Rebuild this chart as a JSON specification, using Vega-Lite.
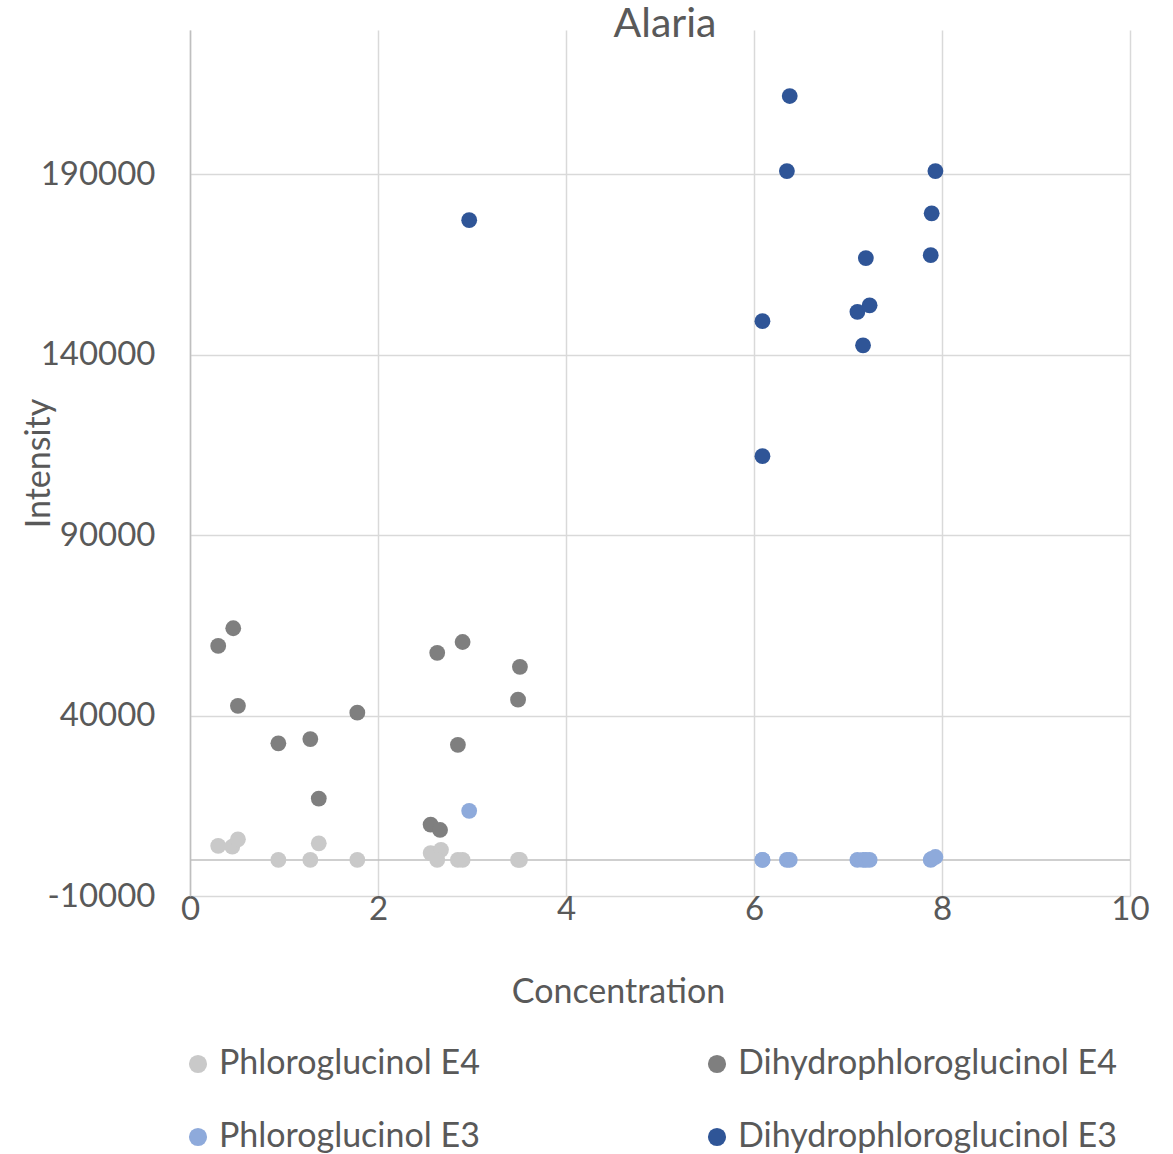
{
  "$schema": "https://vega.github.io/schema/vega-lite/v6.json",
  "width": 940,
  "height": 866,
  "autosize": {"type": "none"},
  "padding": {"left": 190, "top": 30, "right": 43, "bottom": 258},
  "background": "white",
  "title": {"text": "Alaria", "fontSize": 41, "font": "Lato", "color": "#595959", "fontWeight": "normal", "offset": 0, "baseline": "alphabetic", "dx": 5, "dy": 48, "anchor": "middle"},
  "config": {"view": {"stroke": null}, "font": "Lato"},
  "data": {"values": [
    {"series": "Phloroglucinol E4", "x": 0.30, "y": 3900},
    {"series": "Phloroglucinol E4", "x": 0.45, "y": 3700},
    {"series": "Phloroglucinol E4", "x": 0.51, "y": 5700},
    {"series": "Phloroglucinol E4", "x": 0.94, "y": 0},
    {"series": "Phloroglucinol E4", "x": 1.28, "y": 0},
    {"series": "Phloroglucinol E4", "x": 1.37, "y": 4600},
    {"series": "Phloroglucinol E4", "x": 1.78, "y": 0},
    {"series": "Phloroglucinol E4", "x": 2.56, "y": 1900},
    {"series": "Phloroglucinol E4", "x": 2.67, "y": 2800},
    {"series": "Phloroglucinol E4", "x": 2.63, "y": 0},
    {"series": "Phloroglucinol E4", "x": 2.85, "y": 0},
    {"series": "Phloroglucinol E4", "x": 2.90, "y": 0},
    {"series": "Phloroglucinol E4", "x": 3.49, "y": 0},
    {"series": "Phloroglucinol E4", "x": 3.51, "y": 0},
    {"series": "Dihydrophloroglucinol E4", "x": 0.30, "y": 59300},
    {"series": "Dihydrophloroglucinol E4", "x": 0.46, "y": 64200},
    {"series": "Dihydrophloroglucinol E4", "x": 0.51, "y": 42700},
    {"series": "Dihydrophloroglucinol E4", "x": 0.94, "y": 32300},
    {"series": "Dihydrophloroglucinol E4", "x": 1.28, "y": 33500},
    {"series": "Dihydrophloroglucinol E4", "x": 1.37, "y": 17000},
    {"series": "Dihydrophloroglucinol E4", "x": 1.78, "y": 40800},
    {"series": "Dihydrophloroglucinol E4", "x": 2.56, "y": 9800},
    {"series": "Dihydrophloroglucinol E4", "x": 2.66, "y": 8300},
    {"series": "Dihydrophloroglucinol E4", "x": 2.63, "y": 57400},
    {"series": "Dihydrophloroglucinol E4", "x": 2.90, "y": 60400},
    {"series": "Dihydrophloroglucinol E4", "x": 2.85, "y": 31900},
    {"series": "Dihydrophloroglucinol E4", "x": 3.51, "y": 53500},
    {"series": "Dihydrophloroglucinol E4", "x": 3.49, "y": 44400},
    {"series": "Phloroglucinol E3", "x": 2.97, "y": 13600},
    {"series": "Phloroglucinol E3", "x": 6.09, "y": 0},
    {"series": "Phloroglucinol E3", "x": 6.09, "y": 0},
    {"series": "Phloroglucinol E3", "x": 6.35, "y": 0},
    {"series": "Phloroglucinol E3", "x": 6.38, "y": 0},
    {"series": "Phloroglucinol E3", "x": 7.10, "y": 0},
    {"series": "Phloroglucinol E3", "x": 7.16, "y": 0},
    {"series": "Phloroglucinol E3", "x": 7.19, "y": 0},
    {"series": "Phloroglucinol E3", "x": 7.23, "y": 0},
    {"series": "Phloroglucinol E3", "x": 7.88, "y": 0},
    {"series": "Phloroglucinol E3", "x": 7.89, "y": 300},
    {"series": "Phloroglucinol E3", "x": 7.93, "y": 800},
    {"series": "Dihydrophloroglucinol E3", "x": 2.97, "y": 177300},
    {"series": "Dihydrophloroglucinol E3", "x": 6.09, "y": 149300},
    {"series": "Dihydrophloroglucinol E3", "x": 6.09, "y": 111900},
    {"series": "Dihydrophloroglucinol E3", "x": 6.35, "y": 190900},
    {"series": "Dihydrophloroglucinol E3", "x": 6.38, "y": 211700},
    {"series": "Dihydrophloroglucinol E3", "x": 7.10, "y": 151900},
    {"series": "Dihydrophloroglucinol E3", "x": 7.16, "y": 142600},
    {"series": "Dihydrophloroglucinol E3", "x": 7.19, "y": 166800},
    {"series": "Dihydrophloroglucinol E3", "x": 7.23, "y": 153700},
    {"series": "Dihydrophloroglucinol E3", "x": 7.88, "y": 167600},
    {"series": "Dihydrophloroglucinol E3", "x": 7.89, "y": 179200},
    {"series": "Dihydrophloroglucinol E3", "x": 7.93, "y": 190900}
  ]},
  "layer": [
    {
      "data": {"values": [{"zero": 0}]},
      "mark": {"type": "rule", "color": "#bfbfbf", "strokeWidth": 1.5},
      "encoding": {"y": {"field": "zero", "type": "quantitative"}}
    },
    {
      "mark": {"type": "point", "filled": true, "opacity": 1, "size": 250, "strokeWidth": 0},
      "encoding": {
        "x": {
          "field": "x", "type": "quantitative", "title": "Concentration",
          "scale": {"domain": [0, 10], "nice": false, "zero": false},
          "axis": {
            "values": [0, 2, 4, 6, 8, 10], "grid": true, "gridColor": "#d9d9d9", "gridWidth": 1.5,
            "domain": false, "ticks": false, "tickSize": 0, "labelPadding": 23, "labelBaseline": "alphabetic",
            "labelFontSize": 33, "labelColor": "#595959", "labelFont": "Lato", "labelFlush": false, "labelOverlap": false,
            "titleFontSize": 34, "titleColor": "#595959", "titleFont": "Lato", "titleFontWeight": "normal",
            "titleX": 428, "titleY": 106, "titleBaseline": "alphabetic", "titleAlign": "center"
          }
        },
        "y": {
          "field": "y", "type": "quantitative", "title": "Intensity",
          "scale": {"domain": [-10000, 230000], "nice": false, "zero": false},
          "axis": {
            "values": [-10000, 40000, 90000, 140000, 190000], "grid": true, "gridColor": "#d9d9d9", "gridWidth": 1.5,
            "domain": true, "domainColor": "#bfbfbf", "domainWidth": 1.5, "ticks": false, "tickSize": 0,
            "labelPadding": 35, "labelFontSize": 33, "labelColor": "#595959", "labelFont": "Lato",
            "labelExpr": "'' + datum.value", "labelFlush": false, "labelOverlap": false, "labelBaseline": "middle",
            "titleFontSize": 34, "titleColor": "#595959", "titleFont": "Lato", "titleFontWeight": "normal",
            "titleX": -141, "titleY": 433, "titleAngle": -90, "titleBaseline": "alphabetic", "titleAlign": "center"
          }
        },
        "color": {
          "field": "series", "type": "nominal",
          "scale": {
            "domain": ["Phloroglucinol E4", "Dihydrophloroglucinol E4", "Phloroglucinol E3", "Dihydrophloroglucinol E3"],
            "range": ["#c9c9c9", "#7f7f7f", "#8eaadb", "#2f5597"]
          },
          "legend": {
            "orient": "none", "legendX": -9, "legendY": 1017, "columns": 2, "direction": "horizontal", "title": null,
            "symbolType": "circle", "symbolSize": 330, "symbolStrokeWidth": 0, "symbolOpacity": 1,
            "labelFontSize": 34, "labelColor": "#595959", "labelFont": "Lato", "labelOffset": 4,
            "columnPadding": 220, "rowPadding": 39, "labelLimit": 0, "padding": 0
          }
        }
      }
    }
  ]
}
